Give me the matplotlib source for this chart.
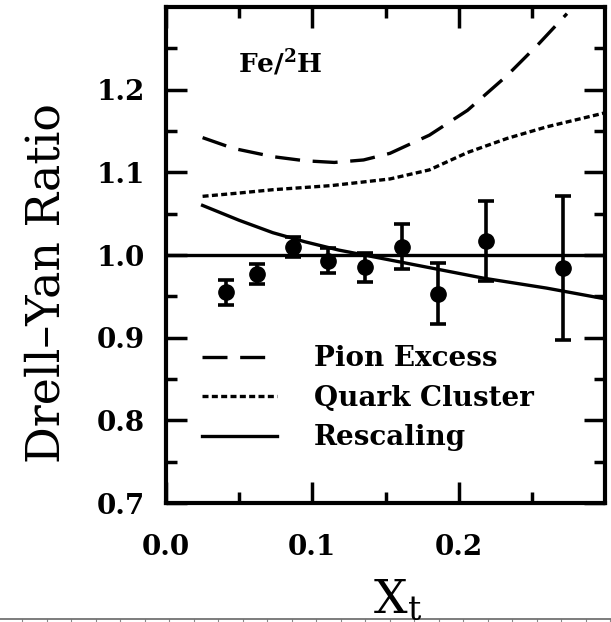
import matplotlib
matplotlib.use("Agg")
import matplotlib.pyplot as plt
import numpy as np

plt.rcParams['font.family'] = ['DejaVu Serif']
plt.rcParams['mathtext.fontset'] = 'dejavuserif'

# data points (Fe/2H)
xt = [0.041, 0.062, 0.087, 0.111, 0.136, 0.161, 0.186, 0.219, 0.271]
ratio = [0.955, 0.977, 1.010, 0.993, 0.985, 1.010, 0.953, 1.017, 0.984]
err = [0.015, 0.012, 0.012, 0.015, 0.018, 0.027, 0.037, 0.048, 0.087]

# model curves
pion_x = [0.025, 0.046, 0.073, 0.095, 0.115, 0.135, 0.153, 0.180, 0.206, 0.233, 0.255, 0.274]
pion_y = [1.142, 1.129, 1.119, 1.114, 1.112, 1.115, 1.123, 1.145, 1.175, 1.217, 1.256, 1.292]
qc_x = [0.025, 0.050, 0.073, 0.113, 0.153, 0.180, 0.206, 0.233, 0.260, 0.300]
qc_y = [1.071, 1.075, 1.079, 1.084, 1.092, 1.103, 1.124, 1.141, 1.155, 1.172]
resc_x = [0.025, 0.050, 0.073, 0.095, 0.118, 0.153, 0.185, 0.217, 0.260, 0.300]
resc_y = [1.060, 1.042, 1.027, 1.016, 1.006, 0.994, 0.983, 0.972, 0.960, 0.947]

fig = plt.figure(figsize=(6.11, 6.22), dpi=100)
ax = fig.add_axes([0.2717, 0.1913, 0.7185, 0.7974])

l1, = ax.plot(pion_x, pion_y, color='black', lw=2.4, dashes=(7.5, 3.8), label='Pion Excess')
l2, = ax.plot(qc_x, qc_y, color='black', lw=2.4, dashes=(1.8, 1.0), label='Quark Cluster')
l3, = ax.plot(resc_x, resc_y, color='black', lw=2.4, label='Rescaling')
ax.axhline(1.0, color='black', lw=2.4)
ax.errorbar(xt, ratio, yerr=err, fmt='o', color='black', ms=11, elinewidth=2.6,
            capsize=5.5, capthick=2.6)

ax.set_xlim(0, 0.3)
ax.set_ylim(0.7, 1.3)
ax.set_xticks([0.0, 0.1, 0.2])
ax.set_xticklabels(['0.0', '0.1', '0.2'])
ax.set_xticks(np.arange(0.05, 0.3, 0.1), minor=True)
ax.set_yticks([0.7, 0.8, 0.9, 1.0, 1.1, 1.2])
ax.set_yticks([0.75, 0.85, 0.95, 1.05, 1.15, 1.25], minor=True)
ax.tick_params(which='both', direction='in', top=True, right=True, width=2.5,
               labelsize=20)
ax.tick_params(axis='x', pad=22)
ax.tick_params(axis='y', pad=15)
ax.tick_params(which='major', length=15)
ax.tick_params(which='minor', length=8)
for lab in ax.get_xticklabels() + ax.get_yticklabels():
    lab.set_fontweight('bold')
for s in ax.spines.values():
    s.set_linewidth(3)

ax.text(0.049, 1.233, r'Fe/$^{\mathbf{2}}$H', fontsize=19, fontweight='bold', va='center')

ax.legend(handles=[l1, l2, l3], loc='upper left', bbox_to_anchor=(0.083, 0.318),
          frameon=False, prop={'size': 20, 'weight': 'bold'}, handlelength=2.7,
          handletextpad=1.3, labelspacing=0.45, borderpad=0, borderaxespad=0)

fig.text(0.076, 0.545, 'Drell\u2013Yan Ratio', rotation=90, fontsize=33,
         ha='center', va='center')
fig.text(0.65, 0.0145, r'$\mathrm{X_t}$', fontsize=34, ha='center', va='baseline')

# scan edge at the bottom
edge = fig.add_axes([0, 0, 1, 0.005])
edge.set_xlim(0, 611)
edge.set_ylim(0, 1)
edge.set_facecolor('none')
for k in ['left', 'right', 'bottom']:
    edge.spines[k].set_visible(False)
edge.spines['top'].set_color('#666666')
edge.spines['top'].set_linewidth(1.2)
edge.set_xticks(np.arange(22, 611, 24.5))
edge.set_yticks([])
edge.tick_params(axis='x', direction='in', top=True, bottom=False, labelbottom=False,
                 length=3, color='#888888', width=0.8)

fig.savefig('out.png', dpi=100)
